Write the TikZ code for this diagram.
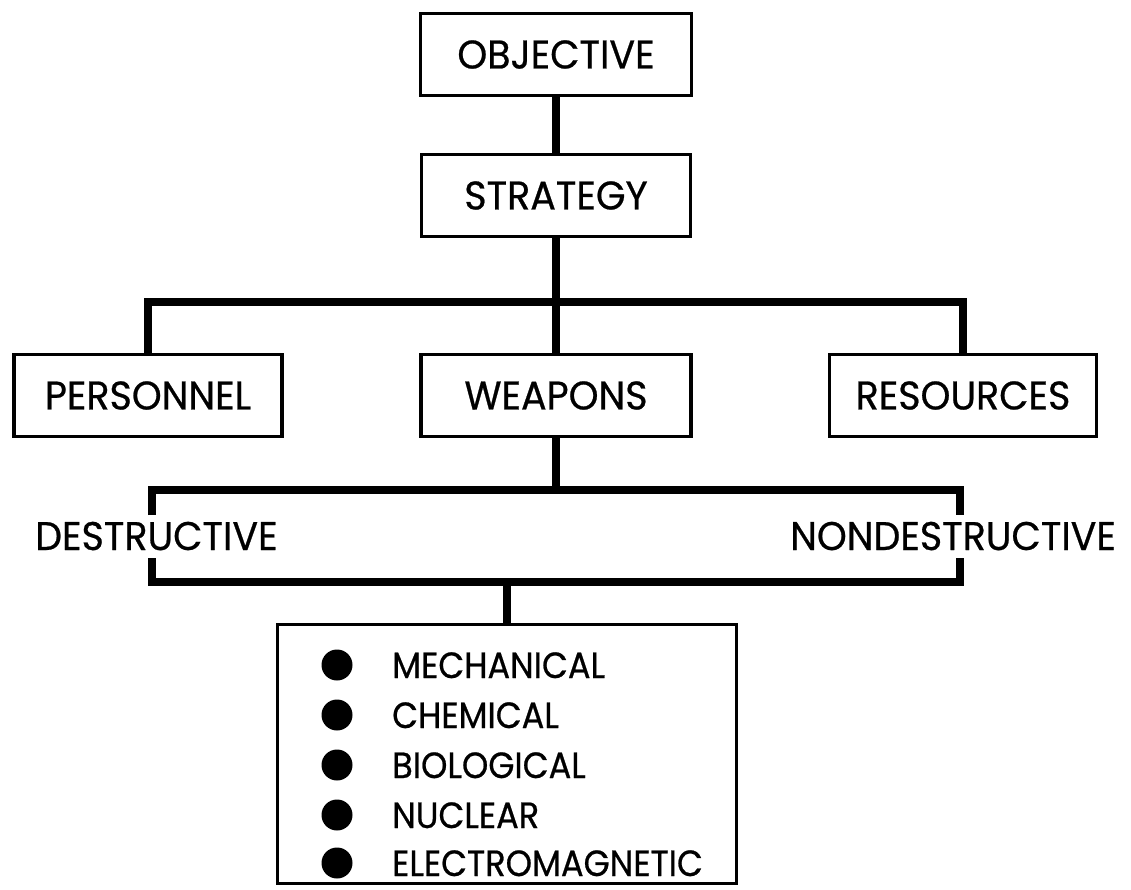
\documentclass[tikz,border=0pt]{standalone}
\usepackage{fontspec}
\setmainfont{Poppins}
\newfontfamily\labelfam{Poppins}[FakeStretch=0.95, FakeBold=0.6]
\newfontfamily\itemfam{Poppins}[FakeStretch=0.92, FakeBold=0.6]
\newcommand\labelfont{\labelfam\fontsize{40}{48}\selectfont}
\newcommand\itemfont{\itemfam\fontsize{36.5}{44}\selectfont}
\begin{document}
\begin{tikzpicture}[x=1pt,y=-1pt,
  box/.style={draw, line width=3.5pt, inner sep=0pt, font=\labelfont},
  link/.style={line width=8pt, line join=miter},
  tag/.style={anchor=base west, inner sep=0pt, font=\labelfont},
  dot/.style={circle, fill, inner sep=0pt, minimum size=31pt},
  item/.style={anchor=base west, inner sep=0pt, font=\itemfont}]
\useasboundingbox (0,0) rectangle (1131,890);

% chain of command
\node[box, minimum width=271pt, minimum height=82pt] (obj) at (556,54.5) {OBJECTIVE};
\node[box, minimum width=269pt, minimum height=82pt] (strategy) at (556,195.5) {STRATEGY};
\node[box, minimum width=268pt, minimum height=82pt] (personnel) at (148,395.5) {PERSONNEL};
\node[box, minimum width=270pt, minimum height=82pt] (weapons) at (556,395.5) {WEAPONS};
\node[box, minimum width=267pt, minimum height=82pt] (resources) at (963,395.5) {RESOURCES};
\node[box, minimum width=459pt, minimum height=259pt] (kinds) at (507,754) {};

\draw[link] (obj.south) -- (strategy.north);
\coordinate (bar1) at (556,302);
\draw[link] (strategy.south) -- (bar1);
\draw[link] (personnel.north) |- (bar1) -| (resources.north);
\draw[link] (bar1) -- (weapons.north);

% destructive / nondestructive bracket
\coordinate (bar2) at (556,490);
\coordinate (dtop) at (152,515);
\coordinate (dbot) at (152,558);
\coordinate (ntop) at (960,515);
\coordinate (nbot) at (960,558);
\coordinate (bar3) at (507,582);
\draw[link] (weapons.south) -- (bar2);
\draw[link] (dtop) |- (bar2) -| (ntop);
\draw[link] (dbot) |- (bar3) -| (nbot);
\draw[link] (bar3) -- (kinds.north);
\node[tag] (destr) at (35,550) {DESTRUCTIVE};
\node[tag] (nondestr) at (790,550) {NONDESTRUCTIVE};

% kinds of weapons
\foreach \i/\y/\t in {1/665/MECHANICAL, 2/715/CHEMICAL, 3/765/BIOLOGICAL, 4/815/NUCLEAR, 5/863/ELECTROMAGNETIC}{
  \node[dot] (b\i) at (337,\y) {};
  \node[item] (k\i) at (392,\y+13) {\t};
}
\end{tikzpicture}
\end{document}
